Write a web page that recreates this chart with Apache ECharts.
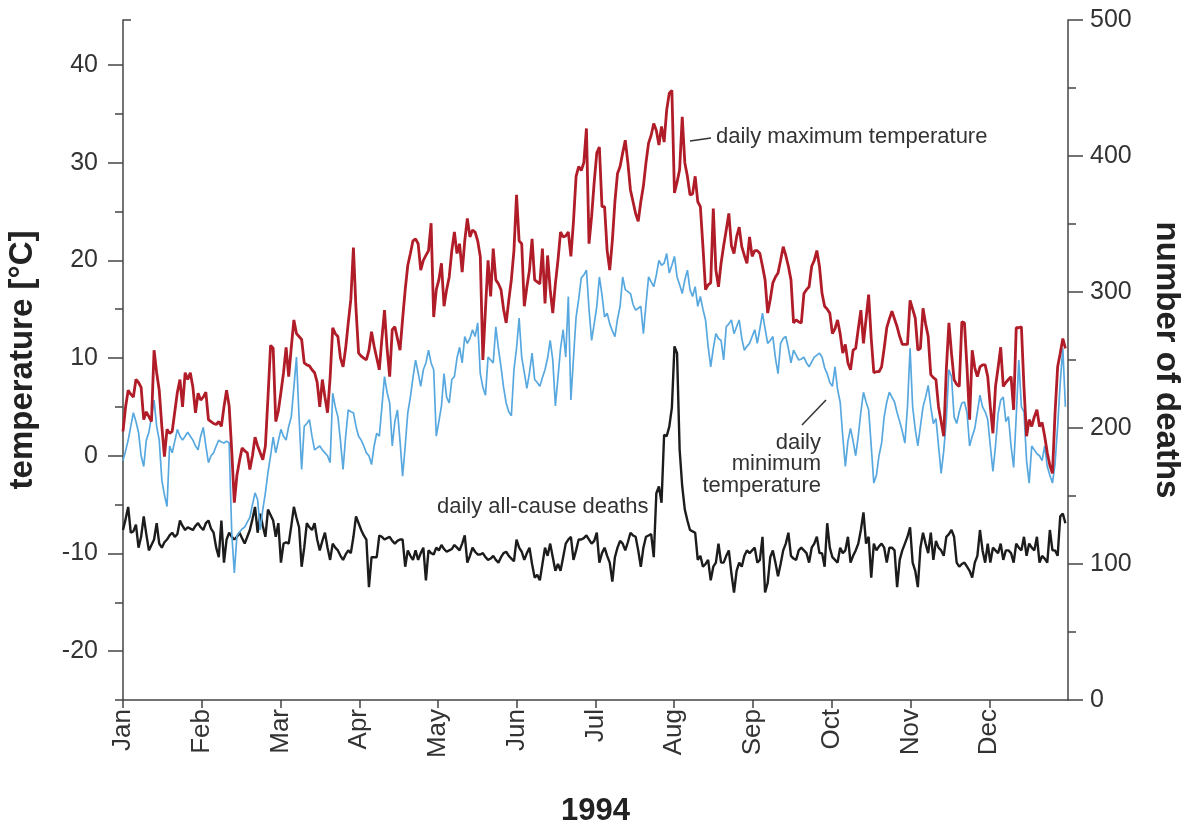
<!DOCTYPE html>
<html>
<head>
<meta charset="utf-8">
<script src="https://cdn.jsdelivr.net/npm/echarts@6.0.0/dist/echarts.min.js"></script>
<style>
  html, body { margin: 0; padding: 0; background: #ffffff; }
  #chart { width: 1188px; height: 825px; }
</style>
</head>
<body>
<div id="chart"></div>
<script>
// ---- Data, one value per day of 1994 ----
const months = ['Jan','Feb','Mar','Apr','May','Jun','Jul','Aug','Sep','Oct','Nov','Dec'];
const tempTicks = [-20, -10, 0, 10, 20, 30, 40];
const tempMinorTicks = [-25, -20, -15, -10, -5, 0, 5, 10, 15, 20, 25, 30, 35, 40];
const deathTicks = [0, 100, 200, 300, 400, 500];

// daily all-cause deaths
const deaths = [
  125,133,142,123,124,129,112,120,135,122,
  110,114,118,130,115,112,116,118,121,123,
  120,122,132,128,125,127,126,125,128,130,
  127,125,130,132,126,123,112,105,132,101,
  118,123,120,118,120,123,119,115,120,125,
  133,142,123,137,128,120,140,136,132,120,
  130,101,115,116,115,128,142,134,127,98,
  112,130,127,125,130,118,110,117,123,112,
  103,115,112,110,106,103,107,110,108,120,
  135,130,125,121,118,83,105,105,105,121,
  120,118,119,120,117,115,117,118,118,98,
  110,106,103,110,103,108,112,88,110,108,
  107,112,110,114,111,109,110,111,114,112,
  110,115,121,101,106,112,109,107,107,108,
  105,103,104,106,103,101,105,108,109,106,
  104,102,118,112,109,103,108,112,100,90,
  92,88,100,112,106,115,105,95,100,95,
  105,115,118,120,103,110,118,118,119,121,
  118,115,117,123,101,108,112,106,101,87,
  105,112,117,115,110,116,123,121,120,110,
  98,112,120,121,122,105,152,157,145,195,
  194,201,215,260,255,184,157,140,132,125,
  124,123,103,106,98,100,103,88,98,101,
  115,101,101,106,110,93,79,95,101,98,
  106,110,108,110,112,101,103,120,79,86,
  105,110,101,91,100,110,115,123,106,104,
  103,110,112,110,108,101,112,115,120,108,
  108,98,130,112,105,103,101,112,108,110,
  120,101,106,110,115,125,138,115,120,90,
  115,110,113,115,112,101,112,112,110,83,
  103,110,115,120,127,101,95,83,112,123,
  115,108,123,103,117,112,110,106,120,122,
  125,120,101,98,100,101,98,95,90,101,
  106,125,110,101,115,101,112,110,108,115,
  103,110,110,108,101,115,112,110,120,106,
  115,112,110,120,101,106,104,101,125,110,
  110,106,135,137,130
];

// daily maximum temperature (°C)
const tmax = [
  2.5,5,6.7,6.3,6,7.8,7.5,7,3.7,4.5,
  4,3.5,10.8,8.5,6.7,3,-0.1,2.7,2.3,2.5,
  4.5,6.5,7.8,5,8.5,7.8,8.5,7,4.4,6.4,
  5.7,6,6.5,3.7,3.5,3.3,3.2,3.5,3,5,
  6.7,5.1,0.5,-4.8,-2,-0.5,0.8,0.5,0.3,-1.4,
  0,1.9,1,0.3,-0.4,1,6,11.3,11,3.5,
  4.6,6.5,8.5,11.1,8.1,11.1,13.9,12.5,12.2,11.9,
  9.5,9.3,9.2,8.8,8.5,7.5,5,7.8,6,4.4,
  8,13.1,12.5,12.2,10,9.1,11,13.6,16,21.3,
  15,10.5,10.2,10,9.8,10.8,12.7,11.2,10,8.8,
  12,14.9,11,8.1,12.9,13.2,12,10.8,14,17,
  19.5,20.7,22,22.2,21.7,19,20,20.5,21,23.8,
  14.2,17,18,19.7,15.3,17,18.3,21,22.9,20.7,
  21.7,18.8,22,24.3,22.4,23.1,22.9,22,20.4,9.8,
  15,20,16.3,21.2,18,17.6,17,15,13.6,15.9,
  18,21,26.7,22,21.7,15.3,17.3,19,22.2,18,
  17.8,17.6,21.2,15.6,20.5,17,14.6,17.6,20,22.9,
  22.4,22.5,22.9,20.4,24,28.6,29.6,29.2,30,33.5,
  21.7,24.5,28,31,31.6,25.5,25.5,21,19,22,
  26,28.9,29.6,31,32.3,30,27.2,26,24.8,24,
  26,27.6,30,32,32.8,34,33.3,31.8,33.7,32.1,
  35.4,37.1,37.4,26.9,28,29.3,34.7,30,28.6,26.7,
  26.8,28.6,26,25.5,21.4,17,17.5,17.7,25.3,19,
  17.3,19.7,21.5,23.1,24.8,21.5,20.7,22.4,23.4,21.4,
  20.5,19.7,22.4,20.4,21,21,20.7,19.4,18,14.6,
  16,17.7,18.3,18.7,20,21.4,20.5,19.4,18,13.6,
  13.9,13.7,13.6,16.6,17,17.3,19.4,20,21,19.4,
  16.6,15.3,15,14.6,12.5,13,13.9,12.5,10.5,11.4,
  9.5,8.8,10.8,11,13,14.9,11.5,14,16.5,12,
  8.5,8.6,8.6,9.1,11,13.1,14,14.8,14,13.2,
  12.2,11.4,11.4,11.4,15.9,15,14.1,10.8,11,15.1,
  13.5,12.2,8.3,8,7.8,5,3.5,2,8.8,13.6,
  10.5,7.8,7.3,7.1,13.7,13.6,9,3.7,10.8,9,
  8.1,9.1,9.3,9.3,8.1,5,2.3,7.1,9,11.1,
  7.1,7.5,7.8,8.1,4.7,13.1,13.1,13.2,7,2,
  3.7,3,4,4.7,3,3.4,2,0.3,-1,-1.8,
  4.4,9.1,10.5,12,11
];

// daily minimum temperature (°C)
const tmin = [
  -0.5,0.5,1.6,3,4.4,3.5,2.4,0,-1.1,1.6,
  2.4,4,5.7,3,1.6,-2.5,-4,-5.2,1,0.3,
  1.5,2.7,2,1.6,2,2.4,2,1.6,1,0.6,
  2,2.9,1,-0.7,0,0.3,1,1.6,1.4,1.3,
  1.5,1.3,-7.9,-12,-8.2,-7.8,-7.5,-7.3,-6.8,-6.3,
  -5,-3.8,-4.5,-7.6,-5.5,-3.8,-1.7,0,1.9,0.3,
  1.5,2.7,2,1.6,3,4,7,10.1,4,-1.4,
  3,3.3,3.7,2,0.6,0.8,1,0.6,0.3,0,
  -0.7,6.4,5,4,1.5,-1.4,2,4.7,4.5,4.4,
  3,2,1.6,1,0.3,0,-0.9,1,2.3,2,
  5,8.1,6.5,5.4,1,3.5,4.7,1.5,-2.1,1,
  4.4,6,8,9.8,8.5,7.1,8.8,9.5,10.8,9.5,
  8.8,2,3.5,5.1,8.4,6,5.4,7.8,8.1,10,
  11.1,9.5,12.2,11.5,12,12.9,12.2,13.6,8.4,7,
  6.2,10.1,9.8,9.5,13.2,11,9.1,7,5.4,4.5,
  4.1,8.8,11,14.1,10.1,8.5,6.9,8.5,10.5,7.8,
  7.5,7.1,8,8.8,10,11.8,9.8,5.1,8,11,
  12.9,10.1,16.3,5.7,10,14.2,16,18.2,18.5,19,
  15,11.8,13.5,15.3,18.3,16.5,14.2,14.6,13.5,12.8,
  12.2,14,15.3,18.3,17,16.8,16.6,15.5,14.9,15.1,
  15.3,12.5,15.5,18.3,17.8,17.3,18.5,20,19.5,19.7,
  20.7,18.7,19.5,20.4,18.3,17.5,16.6,18,19,17,
  16.3,17.3,15.3,16.3,15,13.9,11.2,9.1,11,12.5,
  12,11.8,9.8,13.2,13.5,13.9,12.5,13.2,13.9,12,
  10.8,11.2,11.5,12.2,12.9,11.5,13,14.6,13,11.5,
  11.8,12.2,10,8.4,11.5,12,12.2,11,9.5,10.8,
  10.3,9.8,9.9,10.1,9.5,9.1,9.6,10.1,10.3,10.5,
  10.1,9,8.4,7.5,7.1,9.1,6.8,5.5,2,-1.1,
  1.5,2.8,1.5,0,2,4.5,6.5,5.5,4.7,1,
  -2.8,-2,0,1.3,4,5.5,6.5,6,5.5,4.4,
  3.5,2.5,1.3,5,11,5,2.7,1,3,5,
  6,7.2,5,3.3,3.8,1,-1.8,0.5,3.7,8.8,
  8.1,4,3.3,4.5,5.4,5.5,4.4,1,2,2.8,
  4.5,6.2,5,4.5,3.7,1,-1.6,1,4.3,5.7,
  6,3.5,4,1,-1.2,4,9.8,5,4.5,-0.5,
  -2.8,1,0.6,0.2,0,-0.5,1,-1.1,-2,-2.8,
  -0.8,3,7.5,11,5
];

// ---- Build chart ----
const DAYS = 365;
const monthPos = months.map((m, i) => i * DAYS / 12);
const toXY = arr => arr.map((v, i) => [i, v]);

const FONT = "'Liberation Sans', Arial, Helvetica, sans-serif";
const AX = '#444';
const TXT = '#333';
const ANNOT_FONT = "22px 'Liberation Sans', Arial, sans-serif";

const chart = echarts.init(document.getElementById('chart'), null, { renderer: 'canvas' });

chart.setOption({
  animation: false,
  backgroundColor: '#ffffff',
  textStyle: { fontFamily: FONT },
  grid: { left: 123, right: 120, top: 20, bottom: 125, containLabel: false, outerBoundsMode: 'none' },
  xAxis: {
    type: 'value', min: 0, max: DAYS, interval: DAYS / 12,
    name: '1994', nameLocation: 'middle', nameGap: 96,
    nameTextStyle: { fontFamily: FONT, fontWeight: 'bold', fontSize: 31, color: '#222' },
    axisLine: { show: true, onZero: false, lineStyle: { color: AX, width: 1.5 } },
    axisTick: { show: true, inside: false, length: 8, lineStyle: { color: AX, width: 1.5 }, customValues: monthPos },
    axisLabel: {
      show: true, rotate: 90, margin: 9, fontSize: 26, color: TXT, fontFamily: FONT,
      customValues: monthPos,
      formatter: v => { const k = Math.round(v * 12 / DAYS); return (k >= 0 && k < 12) ? months[k] : ''; }
    },
    splitLine: { show: false }
  },
  yAxis: [
    { // temperature axis (left) – minor ticks every 5
      type: 'value', position: 'left', min: -25, max: 44.6, interval: 5,
      name: 'temperature [°C]', nameLocation: 'middle', nameGap: 84, nameRotate: 90,
      nameTextStyle: { fontFamily: FONT, fontWeight: 'bold', fontSize: 33, color: '#222' },
      axisLine: { show: true, lineStyle: { color: AX, width: 1.5 } },
      axisTick: { show: true, inside: false, length: 8, lineStyle: { color: AX, width: 1.5 }, customValues: tempMinorTicks },
      axisLabel: {
        show: true, margin: 25, fontSize: 25, color: TXT, fontFamily: FONT,
        customValues: tempTicks,
        formatter: v => String(v)
      },
      splitLine: { show: false }
    },
    { // deaths axis (right)
      type: 'value', position: 'right', min: 0, max: 500, interval: 100,
      name: 'number of deaths', nameLocation: 'middle', nameGap: 82, nameRotate: -90,
      nameTextStyle: { fontFamily: FONT, fontWeight: 'bold', fontSize: 33, color: '#222' },
      axisLine: { show: true, lineStyle: { color: AX, width: 1.5 } },
      axisTick: { show: true, inside: false, length: 15, lineStyle: { color: AX, width: 1.5 } },
      minorTick: { show: true, splitNumber: 2, length: 8, lineStyle: { color: AX, width: 1.5 } },
      axisLabel: { show: true, margin: 22, fontSize: 25, color: TXT, fontFamily: FONT,
        customValues: deathTicks },
      splitLine: { show: false }, minorSplitLine: { show: false }
    },
    { // temperature axis major ticks (every 10)
      type: 'value', position: 'left', min: -25, max: 44.6, interval: 5,
      axisLine: { show: false },
      axisTick: { show: true, inside: false, length: 15, lineStyle: { color: AX, width: 1.5 }, customValues: tempTicks },
      axisLabel: { show: false },
      splitLine: { show: false }
    }
  ],
  series: [
    {
      name: 'daily all-cause deaths', type: 'line', yAxisIndex: 1,
      data: toXY(deaths), showSymbol: false, symbol: 'none',
      lineStyle: { color: '#1c1c1c', width: 2.4 }, z: 2
    },
    {
      name: 'daily minimum temperature', type: 'line', yAxisIndex: 0,
      data: toXY(tmin), showSymbol: false, symbol: 'none',
      lineStyle: { color: '#58a8e0', width: 1.7 }, z: 3
    },
    {
      name: 'daily maximum temperature', type: 'line', yAxisIndex: 0,
      data: toXY(tmax), showSymbol: false, symbol: 'none',
      lineStyle: { color: '#b01c27', width: 2.8 }, z: 4
    }
  ],
  graphic: [
    // small inward cap at the top of the temperature axis
    { type: 'line', shape: { x1: 123, y1: 20, x2: 131, y2: 20 }, style: { stroke: AX, lineWidth: 1.5 } },
    { type: 'line', shape: { x1: 690, y1: 141, x2: 711, y2: 138 }, style: { stroke: '#333', lineWidth: 1.5 } },
    { type: 'text', x: 716, y: 137, style: { text: 'daily maximum temperature', fill: TXT, font: ANNOT_FONT, verticalAlign: 'middle' } },
    { type: 'text', x: 437, y: 507, style: { text: 'daily all-cause deaths', fill: TXT, font: ANNOT_FONT, verticalAlign: 'middle' } },
    { type: 'line', shape: { x1: 802, y1: 425, x2: 826, y2: 400 }, style: { stroke: '#333', lineWidth: 1.5 } },
    { type: 'text', x: 821, y: 443, style: { text: 'daily', fill: TXT, font: ANNOT_FONT, align: 'right', verticalAlign: 'middle' } },
    { type: 'text', x: 821, y: 464, style: { text: 'minimum', fill: TXT, font: ANNOT_FONT, align: 'right', verticalAlign: 'middle' } },
    { type: 'text', x: 821, y: 486, style: { text: 'temperature', fill: TXT, font: ANNOT_FONT, align: 'right', verticalAlign: 'middle' } }
  ]
});
</script>
</body>
</html>
